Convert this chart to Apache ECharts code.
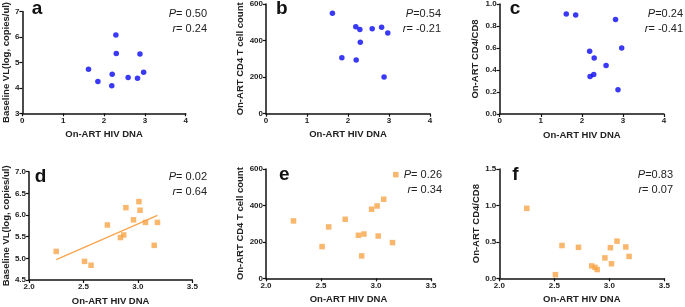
<!DOCTYPE html>
<html>
<head>
<meta charset="utf-8">
<script src="https://cdn.jsdelivr.net/npm/echarts@6/dist/echarts.min.js"></script>
<style>
  html, body { margin: 0; padding: 0; background: #fff; }
  #main { width: 685px; height: 307px; }
</style>
</head>
<body>
<div id="main"></div>
<script>
// On-ART HIV DNA, top row (a-c) and bottom row (d-f)
const dnaTop = [1.62, 1.85, 2.19, 2.20, 2.29, 2.30, 2.59, 2.82, 2.88, 2.97]
const vlTop = [4.73, 4.25, 4.08, 4.54, 6.08, 5.35, 4.41, 4.38, 5.33, 4.61]
const cd4Top = [549, 306, 475, 294, 460, 391, 464, 473, 201, 442]
const ratioTop = [0.91, 0.90, 0.57, 0.34, 0.36, 0.51, 0.44, 0.86, 0.22, 0.60]

const dnaBottom = [2.25, 2.51, 2.57, 2.72, 2.84, 2.87, 2.89, 2.96, 3.01, 3.02, 3.07, 3.15, 3.18]
const vlBottom = [5.16, 4.93, 4.84, 5.77, 5.48, 5.54, 6.17, 5.89, 6.31, 6.11, 5.83, 5.30, 5.83]
const cd4Bottom = [315, 174, 282, 324, 236, 123, 243, 379, 397, 232, 434, 196, 569]
const ratioBottom = [0.96, 0.05, 0.45, 0.425, 0.17, 0.15, 0.12, 0.28, 0.42, 0.20, 0.51, 0.43, 0.30]

const panelLetters = ['a', 'b', 'c', 'd', 'e', 'f']
const pText = ['= 0.50', '=0.54', '=0.24', '= 0.02', '= 0.26', '=0.83']
const rText = ['= 0.24', '= -0.21', '= -0.41', '= 0.64', '= 0.34', '= 0.07']
const yNames = ['Baseline VL(log, copies/ul)', 'On-ART CD4 T cell count', 'On-ART CD4/CD8']
const xName = 'On-ART HIV DNA'

const FONT = 'Liberation Sans, Arial, sans-serif'
const BLUE = '#0808f4'
const ORANGE = '#f8a449'

// grid boxes [left, top, width, height]
const boxes = [
  [21.7, 3.3, 164, 110],
  [266, 3.3, 164, 110.4],
  [499.7, 3.3, 164.3, 110.7],
  [27.7, 171.7, 164.6, 109.3],
  [266, 169, 165, 109.3],
  [499.3, 169, 165, 109.3]
]
const yRanges = [
  [3, 7, 1, 0], [0, 600, 200, 0], [0, 1, 0.2, 1],
  [4.5, 7, 0.5, 1], [0, 600, 200, 0], [0, 1.5, 0.5, 1]
]
const yGaps = [10, 19, 19, 17, 19, 18]
const letterOffset = [10, 10, 10, 7, 13, 13]
const statRight = [207, 441, 683, 207, 442, 673]

function zip(xs, ys) {
  return xs.map((x, i) => [x, ys[i]])
}

// least squares fit for panel d
function fitLine(xs, ys) {
  let n = xs.length
  let mx = xs.reduce((a, b) => a + b, 0) / n
  let my = ys.reduce((a, b) => a + b, 0) / n
  let sxy = 0, sxx = 0
  for (let i = 0; i < n; i++) {
    sxy += (xs[i] - mx) * (ys[i] - my)
    sxx += (xs[i] - mx) * (xs[i] - mx)
  }
  let k = sxy / sxx
  let x0 = Math.min(...xs), x1 = Math.max(...xs)
  return [[x0, my + k * (x0 - mx)], [x1, my + k * (x1 - mx)]]
}

let axisCommon = {
  axisLine: { show: true, lineStyle: { color: '#111', width: 1.5 } },
  axisTick: { show: true, inside: false, length: 3, lineStyle: { color: '#111', width: 1.2 } },
  splitLine: { show: false },
  axisLabel: { color: '#222', fontSize: 8, fontWeight: 'bold', fontFamily: FONT, margin: 3 },
  nameTextStyle: { color: '#222', fontSize: 9.5, fontWeight: 'bold', fontFamily: FONT }
}

let grid = [], xAxis = [], yAxis = [], series = [], graphic = []
boxes.forEach((b, i) => {
  grid.push({ left: b[0], top: b[1], width: b[2], height: b[3] })
  let top = i < 3
  let yr = yRanges[i]
  xAxis.push(Object.assign({}, axisCommon, {
    gridIndex: i, type: 'value',
    min: top ? 0 : 2, max: top ? 4 : 3.5, interval: top ? 1 : 0.5,
    name: xName, nameLocation: 'middle', nameGap: 16,
    axisLabel: Object.assign({}, axisCommon.axisLabel, {
      formatter: v => top ? String(v) : v.toFixed(1)
    })
  }))
  yAxis.push(Object.assign({}, axisCommon, {
    gridIndex: i, type: 'value',
    min: yr[0], max: yr[1], interval: yr[2],
    name: yNames[i % 3], nameLocation: 'middle', nameGap: yGaps[i],
    axisLabel: Object.assign({}, axisCommon.axisLabel, {
      formatter: v => v.toFixed(yr[3])
    })
  }))
  // panel letter
  graphic.push({
    type: 'text', left: b[0] + letterOffset[i], top: b[1] - 4,
    style: { text: panelLetters[i], fontSize: 19, fontWeight: 'bold', fontFamily: FONT, fill: '#111' }
  })
  // P and r
  graphic.push({
    type: 'text', x: statRight[i], y: b[1] + (top ? 3 : -2),
    style: {
      text: '{i|P}' + pText[i] + '\n{i|r}' + rText[i],
      align: 'right', verticalAlign: 'top', lineHeight: 15,
      fontSize: 11, fontFamily: FONT, fill: '#222',
      rich: { i: { fontStyle: 'italic', fontSize: 11, fontFamily: FONT, fill: '#222' } }
    }
  })
})

let topY = [vlTop, cd4Top, ratioTop]
let botY = [vlBottom, cd4Bottom, ratioBottom]
topY.forEach((ys, i) => {
  series.push({
    type: 'scatter', xAxisIndex: i, yAxisIndex: i,
    symbol: 'circle', symbolSize: 5.5,
    itemStyle: { color: BLUE },
    data: zip(dnaTop, ys)
  })
})
botY.forEach((ys, i) => {
  series.push({
    type: 'scatter', xAxisIndex: i + 3, yAxisIndex: i + 3,
    symbol: 'rect', symbolSize: 5.5,
    itemStyle: { color: ORANGE },
    data: zip(dnaBottom, ys)
  })
})
series.push({
  type: 'line', xAxisIndex: 3, yAxisIndex: 3,
  showSymbol: false, silent: true,
  lineStyle: { color: ORANGE, width: 1.2 },
  data: fitLine(dnaBottom, vlBottom)
})

let myChart = echarts.init(document.getElementById('main'))
myChart.setOption({
  animation: false,
  grid: grid,
  xAxis: xAxis,
  yAxis: yAxis,
  series: series,
  graphic: graphic
})
</script>
</body>
</html>
